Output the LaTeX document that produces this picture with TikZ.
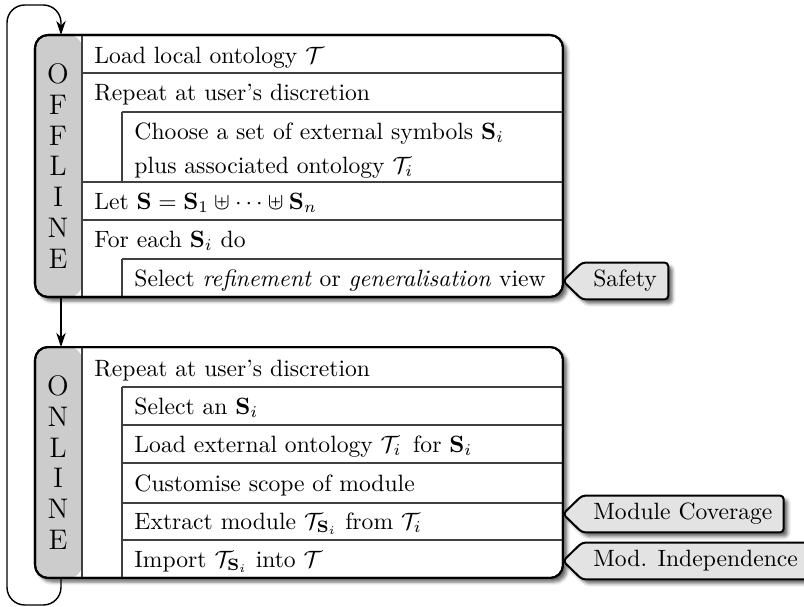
\documentclass[tikz,border=0pt]{standalone}
\usetikzlibrary{shadows.blur,arrows.meta}
\definecolor{sidegray}{gray}{0.80}
\definecolor{taggray}{gray}{0.89}
\begin{document}
\begin{tikzpicture}[x=0.4237pt,y=-0.4237pt,
  shadowed/.style={blur shadow={shadow xshift=1.7pt,shadow yshift=-1.7pt,shadow blur radius=1.4pt,shadow opacity=60}},
  panel/.style={draw=black,line width=0.85pt,rounded corners=5.5pt,fill=white,inner sep=0pt,outer sep=0pt,
    anchor=north west,minimum width=223.71pt,shadowed,
    path picture={\fill[sidegray] (path picture bounding box.north west) rectangle ([xshift=19.91pt]path picture bounding box.south west);}},
  rule/.style={line width=0.45pt,black!75},
  txt/.style={anchor=base west,inner sep=0pt},
  side/.style={align=center,inner sep=0pt,font=\fontsize{12}{13.1}\selectfont},
  tagbox/.style={anchor=west,inner xsep=4.6pt,inner ysep=0pt,minimum height=15.25pt,text height=0.7em,text depth=0.2em},
  tagtxt/.style={anchor=west,inner sep=0pt},
  tagshape/.style={draw=black,line width=0.85pt,fill=taggray,rounded corners=1.6pt,shadowed},
  flow/.style={line width=0.6pt,-{Stealth[length=6pt,width=4pt]}},
  loopline/.style={flow,rounded corners=7.5pt}]
\useasboundingbox (0,0) rectangle (804,607);
\coordinate (loopx) at (61,0);
% OFFLINE panel
\node[panel,minimum height=111.01pt] (off) at (35,35) {};
\draw[rule] (82,35) -- (82,297);
\draw[rule] (82,73) -- (563,73);
\draw[rule] (122,112) -- (563,112);
\draw[rule] (82,182) -- (563,182);
\draw[rule] (82,220) -- (563,220);
\draw[rule] (122,259) -- (563,259);
\draw[rule] (122,112) -- (122,182);
\draw[rule] (122,259) -- (122,297);
\node[side] (offlabel) at (58,166) {O\\F\\F\\L\\I\\N\\E};
\node[txt] (t1) at (94,63) {Load local ontology $\mathcal{T}$};
\node[txt] (t2) at (94,100) {Repeat at user's discretion};
\node[txt] (t3) at (134,139) {Choose a set of external symbols $\mathbf{S}_i$};
\node[txt] (t4) at (134,173) {plus associated ontology $\mathcal{T}_i$};
\node[txt] (t5) at (94,209) {Let $\mathbf{S}=\mathbf{S}_1\uplus\cdots\uplus\mathbf{S}_n$};
\node[txt] (t6) at (94,247) {For each $\mathbf{S}_i$ do};
\node[txt] (t7) at (134,286) {Select \emph{refinement} or \emph{generalisation} view};
\draw[line width=0.85pt,rounded corners=5.5pt] (off.north west) rectangle (off.south east);
% ONLINE panel
\node[panel,minimum height=97.87pt] (on) at (35,347) {};
\draw[rule] (82,347) -- (82,578);
\draw[rule] (122,387) -- (563,387);
\draw[rule] (122,425) -- (563,425);
\draw[rule] (122,463) -- (563,463);
\draw[rule] (122,503) -- (563,503);
\draw[rule] (122,540) -- (563,540);
\draw[rule] (122,387) -- (122,578);
\node[side] (onlabel) at (58,462.5) {O\\N\\L\\I\\N\\E};
\node[txt] (u1) at (94,376) {Repeat at user's discretion};
\node[txt] (u2) at (134,414) {Select an $\mathbf{S}_i$};
\node[txt] (u3) at (134,452) {Load external ontology $\mathcal{T}_i$\ \,for $\mathbf{S}_i$};
\node[txt] (u4) at (134,491) {Customise scope of module};
\node[txt] (u5) at (134,529) {Extract module $\mathcal{T}_{\mathbf{S}_i}$ from $\mathcal{T}_i$};
\node[txt] (u6) at (134,567) {Import $\mathcal{T}_{\mathbf{S}_i}$ into $\mathcal{T}$};
\draw[line width=0.85pt,rounded corners=5.5pt] (on.north west) rectangle (on.south east);
% connectors
\draw[flow] (off.south -| loopx) -- (on.north -| loopx);
\draw[loopline] (on.south -| loopx) -- (61,605) -- (7,605) -- (7,5) -- (61,5) -- (off.north -| loopx);
% tags: outline boxes sized by phantom text, then the shapes, then the text
\node[tagbox] (safety) at (582,281) {\phantom{Safety}};
\node[tagbox] (cover) at (582,514) {\phantom{Module Coverage}};
\node[tagbox] (indep) at (582,561) {\phantom{Mod. Independence}};
\draw[tagshape] (safety.west -| off.east) -- (safety.north west) -- (safety.north east) -- (safety.south east) -- (safety.south west) -- cycle;
\draw[tagshape] (cover.west -| on.east) -- (cover.north west) -- (cover.north east) -- (cover.south east) -- (cover.south west) -- cycle;
\draw[tagshape] (indep.west -| on.east) -- (indep.north west) -- (indep.north east) -- (indep.south east) -- (indep.south west) -- cycle;
\node[tagbox] (safetytext) at (safety.west) {Safety};
\node[tagbox] (covertext) at (cover.west) {Module Coverage};
\node[tagbox] (indeptext) at (indep.west) {Mod. Independence};
\end{tikzpicture}
\end{document}
